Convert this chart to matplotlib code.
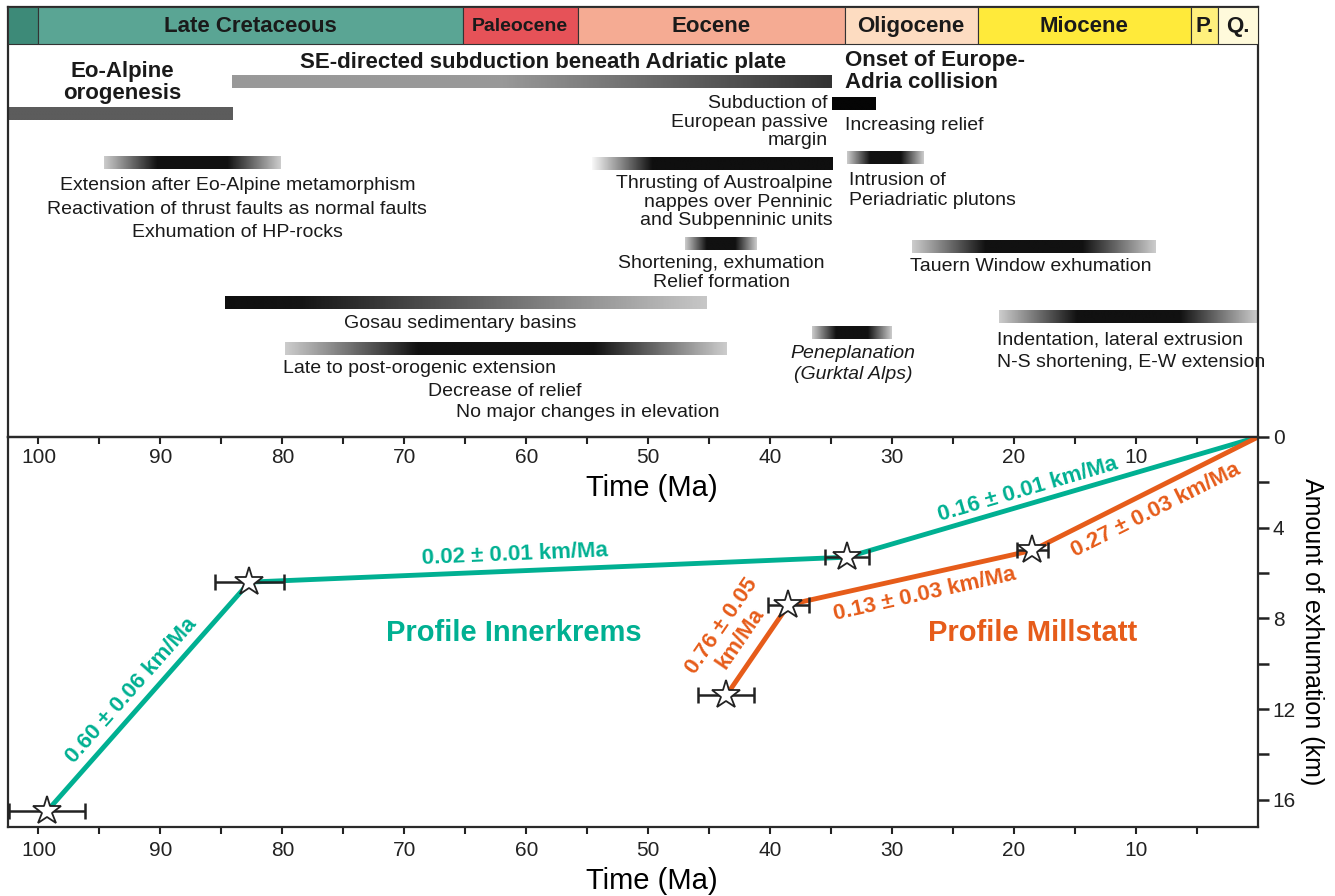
import numpy as np
import matplotlib.pyplot as plt

plt.rcParams['font.family'] = ['Liberation Sans', 'DejaVu Sans']
plt.rcParams['text.color'] = '#1a1a1a'

# geological time scale (Ma), boundaries as drawn in the figure
epoch_names = ['', 'Late Cretaceous', 'Paleocene', 'Eocene', 'Oligocene', 'Miocene', 'P.', 'Q.']
epoch_start = [102.5, 100.0, 65.2, 55.8, 33.9, 23.0, 5.5, 3.3]
epoch_end = [100.0, 65.2, 55.8, 33.9, 23.0, 5.5, 3.3, 0.0]
epoch_colors = ['#3d8a78', '#5aa594', '#e65258', '#f5ab93', '#fddcc1', '#ffea3a', '#fff07c', '#fffadb']

# tectonic events (Ma) and how their bar is shaded
event_start = [102.5, 84.1, 34.9, 94.6, 54.6, 33.7, 47.0, 28.4, 84.7, 79.8, 36.6, 21.2]
event_end = [84.1, 34.9, 31.3, 80.1, 34.9, 27.4, 41.1, 8.4, 45.2, 43.6, 30.1, 0.0]
event_shade = ['gray', 'darken', 'black', 'both', 'in', 'both', 'both', 'both', 'out', 'both', 'both', 'both']

# exhumation profiles: age (Ma), exhumation (km), age error (Ma)
inner_t = [99.3, 82.7, 33.7, 0.0]
inner_km = [16.5, 6.4, 5.3, 0.0]
inner_err = [3.1, 2.8, 1.8]
inner_rates = ['0.60 ± 0.06 km/Ma', '0.02 ± 0.01 km/Ma', '0.16 ± 0.01 km/Ma']

mill_t = [43.6, 38.5, 18.5, 0.0]
mill_km = [11.4, 7.4, 5.0, 0.0]
mill_err = [2.3, 1.7, 1.3]
mill_rates = ['0.76 ± 0.05\nkm/Ma', '0.13 ± 0.03 km/Ma', '0.27 ± 0.03 km/Ma']

teal = '#00b092'
orange = '#e65c1a'
dark = '#222222'

# gray ramps (fraction along bar, gray level)
shades = {
    'gray': ([0, 1], [0.36, 0.36]),
    'darken': ([0, 0.45, 1], [0.6, 0.6, 0.2]),
    'black': ([0, 1], [0.02, 0.02]),
    'in': ([0, 0.25, 1], [0.97, 0.06, 0.06]),
    'out': ([0, 0.15, 1], [0.06, 0.08, 0.78]),
    'both': ([0, 0.3, 0.7, 1], [0.8, 0.07, 0.07, 0.8]),
}
event_row = [114, 82, 104, 163, 164, 157.5, 244, 246.5, 303, 349, 333, 316.5]

fig = plt.figure(figsize=(13.35, 8.96), dpi=100)
W, H = 1335, 896
ax = fig.add_axes([8 / W, 1 - 437 / H, 1250 / W, 430 / H])
ax2 = fig.add_axes([8 / W, 1 - 827 / H, 1250 / W, 390 / H])
ax2.set_facecolor('none')

# ---- top panel: time scale + events ----
ax.bar(epoch_start, 37, width=np.subtract(epoch_end, epoch_start), bottom=7,
       align='edge', color=epoch_colors, edgecolor='#333333', linewidth=0.8, zorder=3)
for name, s, e in zip(epoch_names, epoch_start, epoch_end):
    ax.text((s + e) / 2, 26.5, name, ha='center', va='center', weight='bold',
            fontsize=14 if name == 'Paleocene' else 16, zorder=4)

for s, e, sh, y in zip(event_start, event_end, event_shade, event_row):
    fr, g = shades[sh]
    ramp = np.interp(np.linspace(0, 1, 300), fr, g)
    ax.imshow(ramp[None, :], cmap='gray', vmin=0, vmax=1, aspect='auto',
              extent=[s, e, y + 6.5, y - 6.5], interpolation='bilinear', zorder=2)

txt = dict(fontsize=14, va='center')
bold = dict(fontsize=16, va='center', weight='bold')
ax.text(93.1, 82.5, 'Eo-Alpine\norogenesis', ha='center', linespacing=1.03, **bold)
ax.text(58.6, 62, 'SE-directed subduction beneath Adriatic plate', ha='center', **bold)
ax.text(33.9, 71.5, 'Onset of Europe-\nAdria collision', ha='left', linespacing=1.03, **bold)
ax.text(35.3, 122, 'Subduction of\nEuropean passive\nmargin', ha='right', linespacing=1.08, **txt)
ax.text(33.9, 125, 'Increasing relief', ha='left', **txt)
ax.text(83.7, 209, 'Extension after Eo-Alpine metamorphism\nReactivation of thrust faults as normal faults\n'
        'Exhumation of HP-rocks', ha='center', linespacing=1.53, **txt)
ax.text(34.9, 202, 'Thrusting of Austroalpine\nnappes over Penninic\nand Subpenninic units',
        ha='right', linespacing=1.09, **txt)
ax.text(33.5, 190.5, 'Intrusion of\nPeriadriatic plutons', ha='left', linespacing=1.28, **txt)
ax.text(44.0, 273, 'Shortening, exhumation\nRelief formation', ha='center', linespacing=1.22, **txt)
ax.text(28.5, 266, 'Tauern Window exhumation', ha='left', **txt)
ax.text(65.4, 323, 'Gosau sedimentary basins', ha='center', **txt)
ax.text(79.95, 368, 'Late to post-orogenic extension', ha='left', **txt)
ax.text(68.1, 391, 'Decrease of relief', ha='left', **txt)
ax.text(65.8, 412, 'No major changes in elevation', ha='left', **txt)
ax.text(33.2, 364, 'Peneplanation\n(Gurktal Alps)', ha='center', style='italic', linespacing=1.36, **txt)
ax.text(21.4, 351, 'Indentation, lateral extrusion\nN-S shortening, E-W extension', ha='left',
        linespacing=1.42, **txt)

ax.set_xlim(102.5, 0)
ax.set_ylim(437, 7)
ax.set_yticks([])

# ---- bottom panel: exhumation paths ----
ax2.set_xlim(102.5, 0)
ax2.set_ylim(17.2, 0)

for t, km, err, col in [(inner_t, inner_km, inner_err, teal), (mill_t, mill_km, mill_err, orange)]:
    ax2.plot(t, km, color=col, lw=3.5, solid_capstyle='round', zorder=2)
    ax2.errorbar(t[:-1], km[:-1], xerr=err, fmt='none', ecolor=dark, elinewidth=1.8,
                 capsize=5.5, capthick=1.8, zorder=3)
    ax2.plot(t[:-1], km[:-1], ls='none', marker='*', ms=21, mfc='white', mec=dark, mew=1.3, zorder=4)


def seg_label(t, km, i, text, color, frac, off):
    p0 = ax2.transData.transform((t[i], km[i]))
    p1 = ax2.transData.transform((t[i + 1], km[i + 1]))
    d = p1 - p0
    ang = np.degrees(np.arctan2(d[1], d[0]))
    n = np.array([-d[1], d[0]]) / np.hypot(*d)
    pos = (t[i] + frac * (t[i + 1] - t[i]), km[i] + frac * (km[i + 1] - km[i]))
    ax2.annotate(text, pos, xytext=n * off * 72 / fig.dpi, textcoords='offset points',
                 rotation=ang, rotation_mode='anchor', ha='center', va='center',
                 multialignment='center', color=color, weight='bold', fontsize=16,
                 linespacing=1.05, zorder=5)


for i, (fr, off) in enumerate([(0.48, 16.5), (0.445, 16.5), (0.45, 14)]):
    seg_label(inner_t, inner_km, i, inner_rates[i], teal, fr, off)
for i, (fr, off) in enumerate([(0.5, 32), (0.54, -19), (0.51, -19.5)]):
    seg_label(mill_t, mill_km, i, mill_rates[i], orange, fr, off)

ax2.text(61.0, 8.63, 'Profile Innerkrems', color=teal, weight='bold', fontsize=21, ha='center', va='center')
ax2.text(18.5, 8.63, 'Profile Millstatt', color=orange, weight='bold', fontsize=21, ha='center', va='center')

# ---- axes styling ----
for a in (ax, ax2):
    a.set_xticks(np.arange(100, 5, -10))
    a.set_xticks(np.arange(95, 0, -10), minor=True)
    a.tick_params(axis='x', which='both', direction='out', length=5, width=1.5,
                  colors=dark, labelsize=15)
    for sp in a.spines.values():
        sp.set_color('#2a2a2a')
        sp.set_linewidth(1.6)
    a.set_xlabel('Time (Ma)', fontsize=21, labelpad=5, x=0.515)
ax.tick_params(axis='x', pad=3)
ax2.tick_params(axis='x', pad=5)

ax2.yaxis.tick_right()
ax2.yaxis.set_label_position('right')
ax2.set_yticks([0, 4, 8, 12, 16])
ax2.set_yticks([2, 6, 10, 14], minor=True)
ax2.tick_params(axis='y', which='both', direction='out', length=7.7, width=1.8,
                colors=dark, labelsize=15, pad=3)
ax2.set_ylabel('Amount of exhumation (km)', fontsize=18, rotation=270, va='bottom', labelpad=3)

fig.savefig('out.png', dpi=100)
